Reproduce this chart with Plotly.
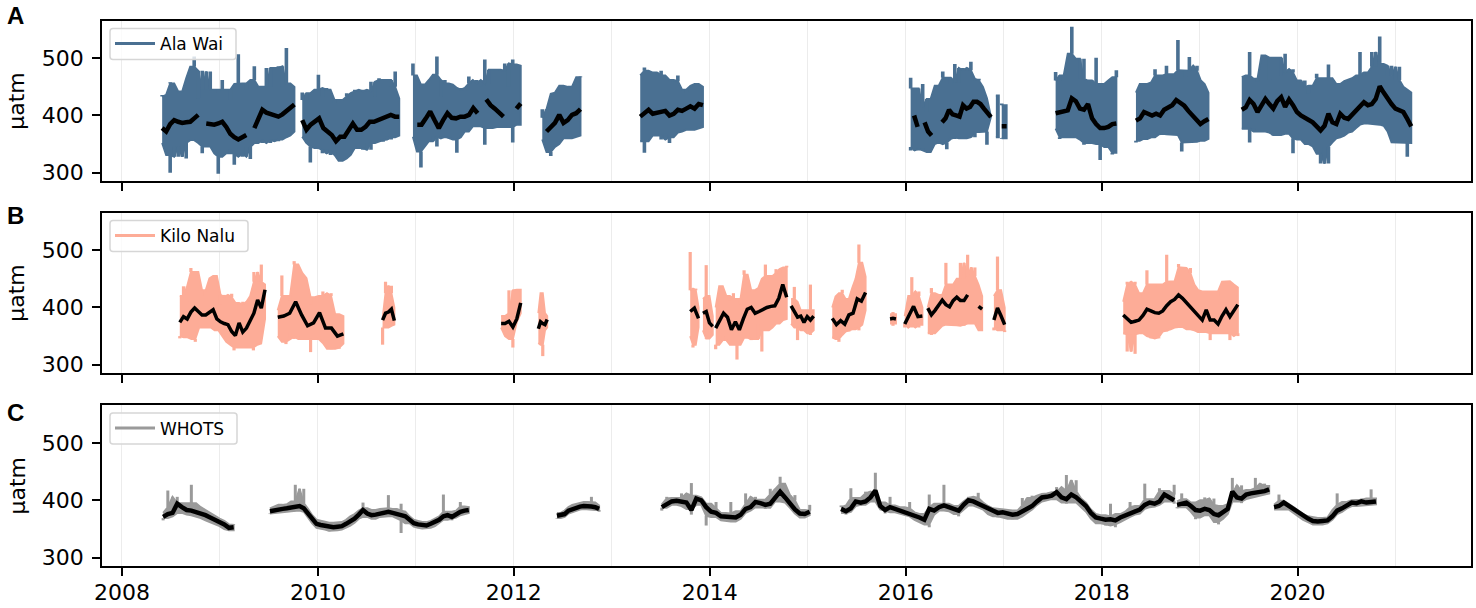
import numpy as np
import plotly.graph_objects as go

# ---- Ala Wai ----
ala_start = [2008.41, 2009.84, 2010.97, 2012.29, 2013.29, 2016.05, 2016.92, 2016.98, 2017.53, 2018.35, 2019.43]
ala_end = [2009.76, 2010.83, 2012.07, 2012.68, 2013.93, 2016.87, 2016.95, 2017.03, 2018.15, 2019.09, 2021.16]
ala_hi = [
    [436,433,458,456,442,442,465,485,503,430,478,445,477,445,440,462,445,427,455,507,456,445,462,486,450,450,483,450,483,486,450,518,456,450],
    [440,427,439,445,471,433,448,445,422,427,427,439,433,445,442,445,442,459,433,465,462,462,450,477,430],
    [491,470,448,454,462,471,503,433,462,456,454,445,448,443,468,456,462,450,498,456,480,480,478,491,450,498,489,487],
    [411,396,438,440,452,452,450,450,467,468],
    [470,484,478,475,462,478,470,462,460,470,445,440,452,455,455,450],
    [466,447,415,455,406,429,452,452,477,466,455,490,458,483,479,494,461,464,450,430,400],
    [435,435],
    [421,418],
    [476,461,470,508,555,499,464,499,461,455,501,450,455,461,467,479],
    [440,455,455,455,458,481,470,462,487,472,464,532,479,468,502,478,487,461,455,440],
    [467,470,511,464,460,505,505,463,501,501,470,508,475,481,461,450,461,438,452,473,465,462,489,465,455,455,460,462,465,470,511,470,475,511,485,538,490,470,487,462,485,450,445,440],
]
ala_lo = [
    [352,331,300,346,328,352,325,357,357,352,334,346,346,334,298,328,334,340,314,334,328,345,324,352,357,352,357,352,358,355,358,362,365,372],
    [363,352,318,346,343,334,340,331,337,321,321,325,331,346,343,340,352,340,352,357,354,363,358,362,365],
    [363,337,309,346,355,363,346,363,360,363,358,335,362,372,372,381,381,384,349,378,380,378,380,382,380,353,384,384],
    [358,336,329,345,350,360,360,360,362,365],
    [355,335,355,365,365,358,368,352,362,370,372,375,375,375,378,380],
    [339,345,339,342,336,336,356,350,353,341,362,359,362,360,360,371,362,371,372,349,398],
    [362,362],
    [359,360],
    [377,359,362,362,368,362,358,349,352,355,350,322,350,345,332,335],
    [353,356,359,359,362,362,368,367,368,366,366,368,337,353,353,354,354,356,356,359],
    [377,377,353,377,372,372,374,370,365,366,366,372,368,334,360,358,350,350,346,333,316,345,316,353,360,362,365,370,372,378,384,386,388,385,385,384,382,372,353,353,353,355,328,352],
]
ala_mean = [
    [378,372,385,392,389,387,388,389,395,401,None,386,385,384,386,389,380,368,362,358,362,366,None,378,395,410,405,402,400,398,402,407,412,419],
    [392,375,384,389,395,378,372,366,355,363,363,375,386,375,375,380,389,389,392,395,398,401,398,398],
    [None,384,384,395,407,392,378,392,404,396,395,398,398,401,413,404,None,428,418,412,405,398,None,None,412,421],
    [None,372,380,387,401,387,392,401,404,411],
    [398,405,410,403,405,406,408,400,403,410,408,412,416,412,420,418],
    [None,400,380,None,388,372,365,None,None,388,395,410,402,400,398,418,412,415,424,424,420,412,405,397],
    [None,None],
    [381,381],
    [404,406,408,409,430,425,412,410,420,395,385,378,378,380,385,386],
    [391,395,406,402,400,403,400,410,415,418,427,422,417,408,400,392,385,390,394],
    [410,414,427,420,406,418,429,420,412,425,432,415,428,418,406,400,397,392,388,380,374,382,403,388,385,403,396,394,402,409,416,423,418,420,429,451,440,429,420,412,408,406,394,381],
]

# ---- Kilo Nalu ----
kilo_start = [2008.59, 2009.59, 2010.66, 2011.87, 2012.25, 2013.80, 2013.93, 2014.06, 2014.83, 2015.25, 2015.84, 2015.99, 2016.225, 2016.90, 2018.22]
kilo_end = [2009.46, 2010.26, 2010.78, 2012.07, 2012.34, 2013.885, 2014.03, 2014.785, 2015.06, 2015.59, 2015.90, 2016.17, 2016.78, 2017.01, 2019.39]
kilo_hi = [
    [420,437,410,469,462,462,420,430,451,455,455,405,422,418,424,408,405,410,400,420,462,445,475,440],
    [395,456,420,412,481,475,460,451,405,418,420,428,420,425,388,388,385],
    [380,445,425,438,400],
    [385,385,430,390,431,431],
    [390,425,425,390,385],
    [497,430,433,400],
    [415,474,420,385],
    [400,437,437,420,413,425,415,405,465,457,430,428,434,450,475,455,451,467,460,470,473],
    [415,436,410,395,390,395,440,395],
    [400,419,425,431,415,410,434,450,510,478,454],
    [388,392,388],
    [385,420,453,420,428,400],
    [400,434,425,412,422,478,440,430,450,478,450,492,455,470,440,420],
    [420,489,430,400],
    [410,445,440,445,425,415,465,440,436,440,440,492,445,446,476,470,460,469,440,430,428,425,428,428,420,445,446,446,440,435],
]
kilo_lo = [
    [346,350,348,345,340,365,367,365,365,360,360,350,340,335,325,330,330,335,330,325,335,337,380],
    [350,340,336,355,345,349,345,345,322,345,349,338,328,327,330,328,337],
    [335,365,365,368,370],
    [365,350,345,330,375,390],
    [338,335,315,360,365],
    [350,330,335,365],
    [360,345,346,352],
    [327,335,350,343,335,335,309,335,347,355,343,345,370,323,360,360,365,372,372,378,380],
    [372,365,343,370,360,355,352,360],
    [348,345,340,352,360,358,362,365,360,370,395],
    [372,368,372],
    [365,372,365,370,365,370],
    [355,352,355,362,368,370,370,369,368,370,368,372,372,373,360,360],
    [360,365,360,357],
    [355,323,353,319,355,356,350,346,348,346,360,358,362,365,368,366,362,362,360,356,357,358,343,355,356,358,355,343,355,350],
]
kilo_mean = [
    [374,384,380,392,399,392,387,387,392,396,380,375,372,370,358,351,373,357,364,378,390,413,399,431],
    [383,385,390,410,387,368,373,391,364,364,350,354],
    [378,390,392,397,377],
    [372,372,376,366,380,408],
    [363,375,372,370,379],
    [393,399,381],
    [390,393,373,367],
    [364,378,390,383,361,375,361,380,397,400,390,393,397,400,402,403,416,440,418],
    [403,392,383,385,374,384,378,385],
    [381,370,377,371,387,390,415,411,426],
    [380,381,380],
    [371,387,402,384,385],
    [399,387,395,404,413,405,401,412,418,412,412,422,None,None,402,397],
    [378,399,385,370],
    [387,380,374,376,378,386,397,394,391,390,394,403,410,414,422,416,408,400,393,384,378,396,378,378,371,385,396,384,395,405],
]

# ---- WHOTS ----
whots_start = [2008.42, 2009.51, 2012.44, 2013.51, 2015.34, 2018.77, 2019.76]
whots_end = [2009.14, 2011.54, 2012.87, 2015.02, 2018.74, 2019.71, 2020.80]
whots_hi = [
    [378,417,388,406,395,392,427,395,388,383,378,372,368,364,357,358],
    [386,389,392,392,393,398,427,395,420,385,374,366,364,362,361,360,361,362,366,372,376,382,396,386,382,383,385,386,409,385,382,394,380,372,366,364,362,362,364,368,372,410,380,377,382,397,389,388],
    [378,378,382,388,392,394,396,397,397,406,396,391],
    [393,406,403,404,412,402,430,408,405,394,386,397,378,377,397,376,381,412,394,406,401,398,420,410,441,429,400,409,383,382,392],
    [391,388,421,404,402,415,412,448,396,390,406,391,388,386,397,379,376,374,410,388,394,427,394,390,388,398,406,404,413,396,390,386,384,385,382,381,382,404,391,408,404,411,412,414,423,411,444,416,435,403,396,384,376,374,372,394,371,376,380,397,388,390,429,402,400,421,416,410,427],
    [398,412,402,396,390,400,405,392,403,382,390,393,439,412,426,416,418,439,421,429,425],
    [392,410,399,394,388,382,376,372,370,368,369,370,383,412,392,397,400,400,403,401,419,403],
]
whots_lo = [
    [365,369,372,385,378,375,374,372,369,365,362,358,355,350,347,348],
    [376,377,378,379,380,381,382,384,380,370,360,352,350,349,346,347,348,349,352,356,361,368,376,371,368,368,371,372,374,372,369,343,365,360,354,352,351,350,352,355,360,366,368,365,370,374,376,378],
    [368,369,371,377,380,382,384,385,385,384,383,380],
    [382,387,392,392,390,385,375,396,392,356,373,371,365,364,363,363,368,378,382,390,388,385,387,398,406,396,387,377,370,370,374],
    [378,375,380,392,390,392,398,408,384,377,382,379,376,374,372,366,362,358,353,375,382,385,381,376,372,384,392,391,388,384,376,372,370,372,368,367,368,372,378,384,392,398,400,402,406,396,394,402,396,388,380,368,360,360,356,358,353,362,366,371,375,377,385,389,388,392,402,398,394],
    [386,388,388,380,367,370,376,374,362,358,368,376,400,398,395,402,405,406,408,410,412],
    [384,384,391,384,378,372,366,362,358,357,358,360,366,376,380,386,390,390,392,391,392,393],
]
whots_mean = [
    [371,376,378,394,388,383,382,380,378,374,370,366,363,358,352,353],
    [381,383,384,385,386,387,388,390,386,376,367,359,357,355,354,353,354,355,359,363,368,375,383,377,374,375,377,378,380,378,375,374,372,366,360,358,357,356,359,362,366,372,374,371,376,380,382,383],
    [373,374,376,382,385,387,389,390,390,389,388,385],
    [388,393,398,399,397,396,383,403,400,388,380,378,372,371,370,370,375,385,388,397,395,392,394,405,415,405,394,384,377,376,380],
    [385,381,386,398,396,398,405,417,390,383,388,385,382,380,378,373,370,366,385,382,388,391,388,384,382,392,400,398,394,390,384,380,378,379,376,375,376,380,385,390,398,405,406,408,414,405,402,410,405,397,390,378,370,368,366,367,365,370,374,378,382,384,392,396,394,398,410,404,400],
    [392,394,396,390,383,382,385,383,376,374,380,385,415,405,403,410,412,413,414,416,419],
    [388,390,396,390,384,378,372,368,364,363,364,365,372,382,386,392,396,395,398,396,397,398],
]

year_ticks = [2008, 2010, 2012, 2014, 2016, 2018, 2020]
value_ticks = [300, 400, 500]
site_names = ["Ala Wai", "Kilo Nalu", "WHOTS"]
panel_labels = ["A", "B", "C"]

W, H = 1476, 608
colors = ["#4a7092", "#fdac97", "#9a9a9a"]
tops = [20.5, 212.5, 405]
bottoms = [181, 373, 566]
letter_y = [16, 215, 412.5]
legend_right = [236, 248, 237]
stick_w = [3.6, 3.2, 3.0]
mean_w = [4.5, 3.5, 4.5]
site_data = [
    (ala_start, ala_end, ala_hi, ala_lo, ala_mean),
    (kilo_start, kilo_end, kilo_hi, kilo_lo, kilo_mean),
    (whots_start, whots_end, whots_hi, whots_lo, whots_mean),
]


def body(vals, upper):
    # The solid body of the band: the middle of each sample and its neighbours.
    n = len(vals)
    out = []
    for i in range(n):
        w = sorted(vals[max(i - 1, 0):min(i + 2, n)])
        out.append(w[(len(w) - 1) // 2] if upper else w[len(w) // 2])
    return out


def sticks(x, tips, bases):
    xs, ys = [], []
    for a, t, b in zip(x, tips, bases):
        xs += [a, a, None]
        ys += [t, b, None]
    return xs, ys


fig = go.Figure()
for p, (st, en, hi, lo, mean) in enumerate(site_data):
    xa = "x" if p == 0 else f"x{p+1}"
    ya = "y" if p == 0 else f"y{p+1}"
    for s, e, h, l in zip(st, en, hi, lo):
        xh = np.linspace(s, e, len(h)).tolist()
        xl = np.linspace(s, e, len(l)).tolist()
        bh = body(h, True)
        bl = body(l, False)
        fig.add_trace(go.Scatter(
            x=xh + xl[::-1], y=bh + bl[::-1], mode="lines", fill="toself",
            fillcolor=colors[p], line=dict(color=colors[p], width=2),
            showlegend=False, hoverinfo="skip", xaxis=xa, yaxis=ya))
        sx1, sy1 = sticks(xh, h, bh)
        sx2, sy2 = sticks(xl, l, bl)
        fig.add_trace(go.Scatter(
            x=sx1 + sx2, y=sy1 + sy2, mode="lines",
            line=dict(color=colors[p], width=stick_w[p]),
            showlegend=False, hoverinfo="skip", xaxis=xa, yaxis=ya))
    for s, e, m in zip(st, en, mean):
        fig.add_trace(go.Scatter(
            x=np.linspace(s, e, len(m)).tolist(), y=m, mode="lines",
            line=dict(color="black", width=mean_w[p]), showlegend=False,
            connectgaps=False, xaxis=xa, yaxis=ya))
    fig.add_trace(go.Scatter(
        x=[None], y=[None], mode="lines", name=site_names[p],
        line=dict(color=colors[p], width=3), xaxis=xa, yaxis=ya,
        legend="legend" if p == 0 else f"legend{p+1}"))

layout = dict(
    width=W, height=H, margin=dict(l=0, r=0, t=0, b=0, autoexpand=False),
    paper_bgcolor="white", plot_bgcolor="white",
    font=dict(family="DejaVu Sans", color="black"),
)
shapes = []
for p in range(3):
    sx = "" if p == 0 else str(p + 1)
    layout[f"xaxis{sx}"] = dict(
        domain=[102 / W, 1471 / W], range=[2007.796, 2021.77], anchor=f"y{sx}",
        tickmode="array", tickvals=year_ticks,
        ticktext=[str(t) for t in year_ticks] if p == 2 else [""] * len(year_ticks),
        ticks="outside", ticklen=8, tickwidth=1.6, tickcolor="black",
        showline=True, mirror=True, linecolor="black", linewidth=1.8,
        showgrid=True, gridcolor="#ececec", gridwidth=1,
        minor=dict(dtick=1, tick0=2008, showgrid=True, gridcolor="#ececec", gridwidth=1, ticks=""),
        zeroline=False, tickfont=dict(size=22), ticklabelstandoff=-2,
    )
    layout[f"yaxis{sx}"] = dict(
        domain=[1 - bottoms[p] / H, 1 - tops[p] / H], range=[285.5, 566], anchor=f"x{sx}",
        tickmode="array", tickvals=value_ticks,
        ticks="outside", ticklen=8, tickwidth=1.6, tickcolor="black",
        showline=True, mirror=True, linecolor="black", linewidth=1.8,
        showgrid=False, zeroline=False, tickfont=dict(size=22), ticklabelstandoff=4,
    )
    layout["legend" if p == 0 else f"legend{p+1}"] = dict(
        x=110 / W, y=1 - (tops[p] + 5.5) / H, xanchor="left", yanchor="top",
        bgcolor="rgba(0,0,0,0)", borderwidth=0,
        font=dict(size=17), itemwidth=40,
    )
    # Rounded legend frame
    x0, x1 = 110, legend_right[p]
    y0, y1 = tops[p] + 8, tops[p] + 39
    r = 3
    fx = lambda v: v / W
    fy = lambda v: 1 - v / H
    path = (f"M {fx(x0+r)} {fy(y0)} L {fx(x1-r)} {fy(y0)} Q {fx(x1)} {fy(y0)} {fx(x1)} {fy(y0+r)} "
            f"L {fx(x1)} {fy(y1-r)} Q {fx(x1)} {fy(y1)} {fx(x1-r)} {fy(y1)} "
            f"L {fx(x0+r)} {fy(y1)} Q {fx(x0)} {fy(y1)} {fx(x0)} {fy(y1-r)} "
            f"L {fx(x0)} {fy(y0+r)} Q {fx(x0)} {fy(y0)} {fx(x0+r)} {fy(y0)} Z")
    shapes.append(dict(type="path", xref="paper", yref="paper", path=path,
                       fillcolor="rgba(255,255,255,0.8)", line=dict(color="#d6d6d6", width=1.5), layer="above"))
layout["shapes"] = shapes
fig.update_layout(**layout)

for p in range(3):
    fig.add_annotation(text="µatm", x=17 / W, y=1 - (tops[p] + bottoms[p]) / 2 / H, xref="paper", yref="paper",
                       textangle=-90, showarrow=False, font=dict(size=22), xanchor="center", yanchor="middle")
    fig.add_annotation(text=f"<b>{panel_labels[p]}</b>", x=15 / W, y=1 - letter_y[p] / H, xref="paper", yref="paper",
                       showarrow=False, font=dict(size=24, family="Liberation Sans"), xanchor="center", yanchor="middle")

fig.write_html("out.html", config=dict(displayModeBar=False), post_script="document.body.style.margin='0';")
